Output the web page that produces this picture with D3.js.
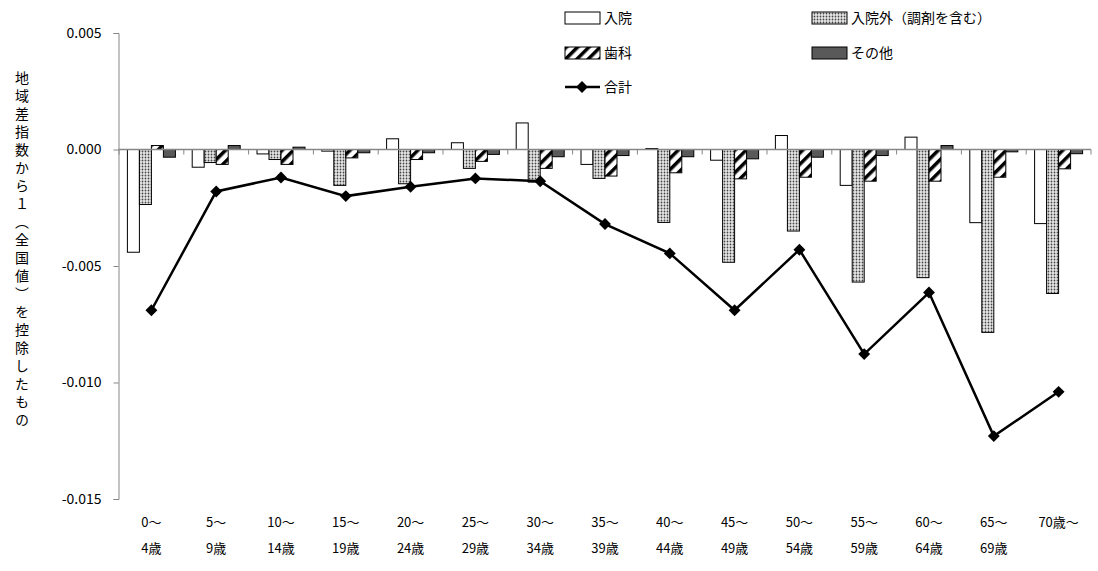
<!DOCTYPE html>
<html><head><meta charset="utf-8">
<script src="https://cdn.jsdelivr.net/npm/d3@7"></script>
<style>body{margin:0;background:#fff}svg{display:block}text{font-family:"Noto Sans CJK JP","Noto Sans",sans-serif;fill:#000}</style>
</head><body>
<svg id="c" width="1098" height="571"></svg>
<script>
const categories = ["0～\n4歳","5～\n9歳","10～\n14歳","15～\n19歳","20～\n24歳","25～\n29歳","30～\n34歳","35～\n39歳","40～\n44歳","45～\n49歳","50～\n54歳","55～\n59歳","60～\n64歳","65～\n69歳","70歳～"];
const seriesNames = ["入院","入院外（調剤を含む）","歯科","その他"];
const nyuin    = [-0.00441,-0.00076,-0.00019,-0.00007,0.00046,0.00029,0.00114,-0.00064,0.00004,-0.00046,0.0006,-0.00154,0.00053,-0.00314,-0.00318];
const gairai   = [-0.00236,-0.00056,-0.00043,-0.00154,-0.00147,-0.00081,-0.0014,-0.00124,-0.00313,-0.00484,-0.0035,-0.00569,-0.0055,-0.00785,-0.00618];
const shika    = [0.00017,-0.00064,-0.00064,-0.00036,-0.00043,-0.00051,-0.00081,-0.00114,-0.001,-0.00126,-0.00119,-0.00136,-0.00136,-0.00119,-0.00083];
const sonota   = [-0.00033,0.00017,0.0001,-0.00014,-0.00014,-0.00021,-0.00031,-0.00026,-0.00031,-0.0004,-0.00033,-0.00026,0.00017,-0.0001,-0.00018];
const total    = [-0.0069,-0.0018,-0.0012,-0.0020,-0.0016,-0.00124,-0.00136,-0.0032,-0.00446,-0.0069,-0.0043,-0.00878,-0.00614,-0.0123,-0.0104];
const yTicks   = [0.005,0,-0.005,-0.01,-0.015];
const totalName = "合計";
const yTitle = "地域差指数から１（全国値）を控除したもの";

const seriesVals = [nyuin, gairai, shika, sonota];
const fills = ["#fff","url(#dots)","url(#stripes)","#595959"];

const svg = d3.select("#c");
const defs = svg.append("defs");
const pd = defs.append("pattern").attr("id","dots").attr("patternUnits","userSpaceOnUse").attr("width",3).attr("height",3);
pd.append("rect").attr("width",3).attr("height",3).attr("fill","#e8e8e8");
pd.append("circle").attr("cx",1.5).attr("cy",1.5).attr("r",0.9).attr("fill","#444");
const ps = defs.append("pattern").attr("id","stripes").attr("patternUnits","userSpaceOnUse").attr("width",8).attr("height",8).attr("patternTransform","rotate(45)");
ps.append("rect").attr("width",8).attr("height",8).attr("fill","#fff");
ps.append("rect").attr("width",3.5).attr("height",8).attr("fill","#000");

const x = d3.scaleBand().domain(d3.range(categories.length)).range([119,1091]).padding(0);
const xi = d3.scaleBand().domain(d3.range(4)).range([0,x.bandwidth()]).paddingInner(0).paddingOuter(0.7);
const y = d3.scaleLinear().domain([-0.015,0.005]).range([499,33]);

// y axis
const ya = svg.append("g").attr("transform","translate(118.5,0)")
  .call(d3.axisLeft(y).tickValues(yTicks).tickFormat(d=>d3.format(".3f")(d).replace("\u2212","-")).tickSize(5).tickPadding(12));
ya.select(".domain").attr("stroke","#868686");
ya.selectAll(".tick line").attr("stroke","#868686");
ya.selectAll(".tick text").attr("font-size",14).attr("font-family","Liberation Sans, Arial, sans-serif");

// bars
seriesVals.forEach((vals,si)=>{
  svg.append("g").selectAll("rect").data(vals).join("rect")
    .attr("x",(d,i)=>x(i)+xi(si))
    .attr("width",xi.bandwidth())
    .attr("y",d=>y(Math.max(0,d)))
    .attr("height",d=>Math.abs(y(d)-y(0)))
    .attr("fill",fills[si]).attr("stroke","#000").attr("stroke-width",1);
});

// x axis line
const xa = svg.append("g").attr("transform",`translate(0,${y(0)})`);
xa.append("line").attr("x1",118.5).attr("x2",1091).attr("stroke","#868686").attr("stroke-width",1.3);
xa.selectAll("line.t").data(d3.range(categories.length+1)).join("line").attr("class","t")
  .attr("x1",i=>119+i*x.step()).attr("x2",i=>119+i*x.step()).attr("y1",0).attr("y2",5).attr("stroke","#868686");

// category labels
const lab = svg.append("g").selectAll("text").data(categories).join("text")
  .attr("text-anchor","middle").attr("font-size",13);
lab.each(function(d,i){
  const t=d3.select(this); const parts=d.split("\n");
  parts.forEach((p,k)=>t.append("tspan").attr("x",x(i)+x.bandwidth()/2).attr("y",527+k*26).text(p));
});

// total line
const line = d3.line().x((d,i)=>x(i)+x.bandwidth()/2).y(d=>y(d));
svg.append("path").datum(total).attr("d",line).attr("fill","none").attr("stroke","#000").attr("stroke-width",2.5);
const diamond = d3.symbol().type(d3.symbolDiamond2).size(90);
svg.append("g").selectAll("path").data(total).join("path")
  .attr("d",diamond).attr("transform",(d,i)=>`translate(${x(i)+x.bandwidth()/2},${y(d)})`).attr("fill","#000");

// y title
svg.append("text").attr("x",22).attr("y",251).attr("text-anchor","middle")
  .attr("writing-mode","vertical-rl").attr("font-size",14).attr("letter-spacing",4).text(yTitle);

// legend
const leg = svg.append("g");
const items = [
  {name:seriesNames[0], fill:fills[0], x:565, y:18},
  {name:seriesNames[1], fill:fills[1], x:812, y:18},
  {name:seriesNames[2], fill:fills[2], x:565, y:53},
  {name:seriesNames[3], fill:fills[3], x:812, y:53}
];
items.forEach(it=>{
  leg.append("rect").attr("x",it.x).attr("y",it.y-6).attr("width",35).attr("height",12).attr("fill",it.fill).attr("stroke","#000");
  leg.append("text").attr("x",it.x+39).attr("y",it.y).attr("dy","0.35em").attr("font-size",14).text(it.name);
});
leg.append("line").attr("x1",565).attr("x2",600).attr("y1",87).attr("y2",87).attr("stroke","#000").attr("stroke-width",2.5);
leg.append("path").attr("d",diamond).attr("transform","translate(582,87)").attr("fill","#000");
leg.append("text").attr("x",604).attr("y",87).attr("dy","0.35em").attr("font-size",14).text(totalName);
</script>
</body></html>
